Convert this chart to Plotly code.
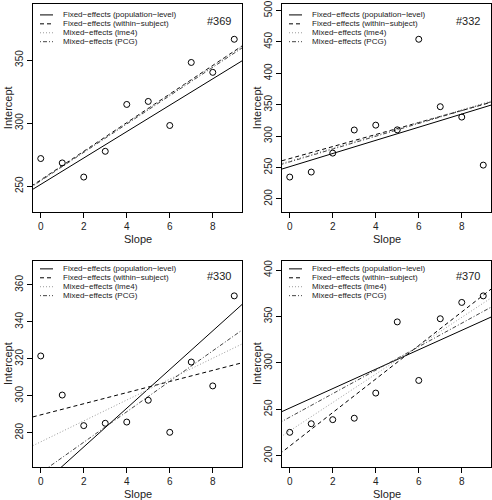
import plotly.graph_objects as go

W, H = 492, 500

# ---------------- data ----------------
days = [0, 1, 2, 3, 4, 5, 6, 7, 8, 9]
subjects = ["369", "332", "330", "370"]
rt_369 = [271.9235, 268.4369, 257.2424, 277.6566, 314.8222, 317.2135, 298.1353, 348.1229, 340.2800, 366.5131]
rt_332 = [234.8606, 242.8118, 272.9613, 309.7688, 317.4629, 309.9976, 454.1619, 346.8311, 330.3003, 253.8644]
rt_330 = [321.5426, 300.4002, 283.8565, 285.1330, 285.7973, 297.5855, 280.2396, 318.2613, 305.3495, 354.0487]
rt_370 = [225.2640, 234.5235, 238.9008, 240.4730, 267.5373, 344.1937, 281.1481, 347.5855, 365.1630, 372.2288]

pop_intercept = 251.405
pop_slope = 10.467
within_intercept = [254.968, 264.252, 289.685, 210.449]
within_slope = [11.348, 9.567, 3.008, 18.056]
lme4_intercept = [254.681, 260.445, 275.096, 226.791]
lme4_slope = [11.340, 10.195, 5.653, 15.290]
pcg_intercept = [254.3, 259.0, 258.4, 241.6]
pcg_slope = [11.25, 10.2, 8.24, 12.65]

legend_labels = ["Fixed\u2212effects (population\u2212level)",
                 "Fixed\u2212effects (within\u2212subject)",
                 "Mixed\u2212effects (lme4)",
                 "Mixed\u2212effects (PCG)"]

# ---------------- layout helpers ----------------
FONT = "Liberation Sans"
# panel pixel boxes: (left, top, right, bottom)
boxes = [(33, 0, 242, 210), (282, 0, 491, 210), (33, 259, 242, 467), (282, 259, 491, 467)]
legend_rows = [[11, 20, 29, 38], [11, 20, 29, 38], [8, 17, 26, 35], [8, 17, 26, 35]]
title_off = [17, 17, 15, 15]
ydticks = [50, 50, 20, 50]
xrange_ = (-0.36, 9.36)

styles = [dict(color="black", dash="solid", width=1),
          dict(color="black", dash="4px,3px", width=1),
          dict(color="#9a9a9a", dash="1px,2px", width=1),
          dict(color="#444444", dash="1px,2px,4px,2px", width=1)]


def yrange_for(vals):
    lo, hi = min(vals), max(vals)
    span = hi - lo
    lo, hi = lo - 0.2 * span, hi + 0.2 * span
    pad = 0.04 * (hi - lo)
    return [lo - pad, hi + pad]


def px(xp):
    return xp / W


def py(yp):
    return 1 - yp / H


fig = go.Figure()
annotations = []
shapes = []
series = [rt_369, rt_332, rt_330, rt_370]
xline = [-1, 11]

for i, subj in enumerate(subjects):
    n = i + 1
    xa = "x" if n == 1 else f"x{n}"
    ya = "y" if n == 1 else f"y{n}"
    L, T, R, B = boxes[i]
    xkey = "xaxis" if n == 1 else f"xaxis{n}"
    ykey = "yaxis" if n == 1 else f"yaxis{n}"
    axis_common = dict(showline=True, mirror=True, linecolor="black", linewidth=1,
                       ticks="outside", ticklen=5, tickwidth=1, tickcolor="black",
                       showgrid=False, zeroline=False, ticklabeloverflow="allow",
                       tickfont=dict(family=FONT, size=10, color="#222"))
    fig.update_layout(**{
        xkey: dict(domain=[px(L), px(R)], range=list(xrange_), tickmode="array",
                   tickvals=[0, 2, 4, 6, 8], anchor=ya, **axis_common),
        ykey: dict(domain=[py(B), py(T)], range=yrange_for(series[i]), dtick=ydticks[i],
                   tick0=0, tickangle=-90, anchor=xa, **axis_common),
    })

    coefs = [(pop_intercept, pop_slope),
             (within_intercept[i], within_slope[i]),
             (lme4_intercept[i], lme4_slope[i]),
             (pcg_intercept[i], pcg_slope[i])]
    for k, (a, b) in enumerate(coefs):
        fig.add_trace(go.Scatter(x=xline, y=[a + b * xv for xv in xline], mode="lines",
                                 line=styles[k], xaxis=xa, yaxis=ya,
                                 hoverinfo="skip", showlegend=False))
    fig.add_trace(go.Scatter(x=days, y=series[i], mode="markers",
                             marker=dict(symbol="circle-open", size=6, color="black",
                                         line=dict(width=1, color="black")),
                             xaxis=xa, yaxis=ya, showlegend=False))

    # manual legend
    for k in range(4):
        yy = py(T + legend_rows[i][k])
        shapes.append(dict(type="line", xref="paper", yref="paper",
                           x0=px(L + 7), x1=px(L + 20), y0=yy, y1=yy,
                           line=dict(color=styles[k]["color"], width=1,
                                     dash=styles[k]["dash"])))
        annotations.append(dict(xref="paper", yref="paper", x=px(L + 28), y=yy,
                                text=legend_labels[k], showarrow=False,
                                xanchor="left", yanchor="middle",
                                font=dict(family=FONT, size=8, color="#222")))
    # panel label
    annotations.append(dict(xref="paper", yref="paper", x=px(R - 9), y=py(T + title_off[i]),
                            text="#" + subj, showarrow=False, xanchor="right",
                            yanchor="middle", font=dict(family=FONT, size=11, color="#222")))
    # axis titles
    annotations.append(dict(xref="paper", yref="paper", x=px((L + R) / 2), y=py(B + 27),
                            text="Slope", showarrow=False, xanchor="center",
                            yanchor="middle", font=dict(family=FONT, size=11, color="#222")))
    annotations.append(dict(xref="paper", yref="paper", x=px(L - 25), y=py((T + B) / 2),
                            text="Intercept", showarrow=False, textangle=-90,
                            xanchor="center", yanchor="middle",
                            font=dict(family=FONT, size=11, color="#222")))

fig.update_layout(width=W, height=H, margin=dict(l=0, r=0, t=0, b=0),
                  plot_bgcolor="white", paper_bgcolor="white", showlegend=False,
                  annotations=annotations, shapes=shapes)

fig.write_html("out.html", config={"displayModeBar": False},
               post_script="document.body.style.margin='0px';document.body.style.overflow='hidden';")
